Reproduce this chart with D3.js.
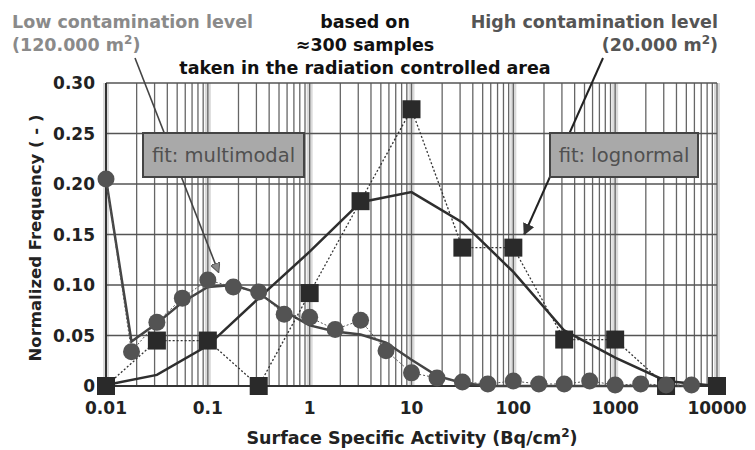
<!DOCTYPE html>
<html>
<head>
<meta charset="utf-8">
<script src="https://cdn.jsdelivr.net/npm/d3@7"></script>
<style>
  body { margin: 0; background: #fff; }
  text { font-family: 'DejaVu Sans', sans-serif; }
</style>
</head>
<body>
<div id="graph-holder"></div>
<script>
// low contamination samples (circles), quarter-decade classes
const circleX = [0.01, 0.0178, 0.0316, 0.0562, 0.1, 0.178, 0.316, 0.562, 1, 1.78, 3.16, 5.62,
                 10, 17.8, 31.6, 56.2, 100, 178, 316, 562, 1000, 1780, 3160, 5620];
const circleY = [0.205, 0.034, 0.063, 0.087, 0.105, 0.098, 0.093, 0.071, 0.068, 0.056, 0.065, 0.035,
                 0.013, 0.008, 0.004, 0.002, 0.005, 0.002, 0.002, 0.005, 0.001, 0.002, 0.001, 0.001];
const multimodalY = [0.205, 0.044, 0.062, 0.083, 0.098, 0.100, 0.092, 0.074, 0.060, 0.054, 0.051, 0.043,
                     0.026, 0.010, 0.003, 0, 0, 0, 0, 0, 0, 0, 0, 0];

// high contamination samples (squares), half-decade classes
const squareX = [0.01, 0.0316, 0.1, 0.316, 1, 3.16, 10, 31.6, 100, 316, 1000, 3160, 10000];
const squareY = [0, 0.045, 0.045, 0, 0.092, 0.183, 0.274, 0.137, 0.137, 0.046, 0.046, 0, 0];
const lognormalY = [0.001, 0.011, 0.040, 0.087, 0.133, 0.182, 0.192, 0.162, 0.113, 0.055, 0.028, 0.005, 0];

const xTickValues = [0.01, 0.1, 1, 10, 100, 1000, 10000];
const xTickLabels = ['0.01', '0.1', '1', '10', '100', '1000', '10000'];
const yTickValues = [0, 0.05, 0.10, 0.15, 0.20, 0.25, 0.30];
const yTickLabels = ['0', '0.05', '0.10', '0.15', '0.20', '0.25', '0.30'];

const svgWidth = 755,
      svgHeight = 450;

const margin = { top: 83, right: 38, bottom: 64, left: 106 };

const width = svgWidth - margin.left - margin.right,
      height = svgHeight - margin.top - margin.bottom;

const svg = d3.select('#graph-holder')
              .append('svg')
              .attr('width', svgWidth)
              .attr('height', svgHeight);

const defs = svg.append('defs');
defs.append('marker')
    .attr('id', 'arrow-gray')
    .attr('viewBox', '0 0 10 10')
    .attr('refX', 9).attr('refY', 5)
    .attr('markerWidth', 10).attr('markerHeight', 10)
    .attr('markerUnits', 'userSpaceOnUse')
    .attr('orient', 'auto')
    .append('path')
    .attr('d', 'M0,0 L10,5 L0,10 z')
    .attr('fill', '#888').attr('stroke', '#555');
defs.append('marker')
    .attr('id', 'arrow-dark')
    .attr('viewBox', '0 0 10 10')
    .attr('refX', 9).attr('refY', 5)
    .attr('markerWidth', 12).attr('markerHeight', 12)
    .attr('markerUnits', 'userSpaceOnUse')
    .attr('orient', 'auto')
    .append('path')
    .attr('d', 'M0,0 L10,5 L0,10 z')
    .attr('fill', '#333');

const g = svg.append('g')
             .attr('transform', `translate(${margin.left}, ${margin.top})`);

const x = d3.scaleLog()
            .domain([0.01, 10000])
            .range([0, width]);
const y = d3.scaleLinear()
            .domain([0, 0.30])
            .range([height, 0]);

// grid: decade bands, minor log lines, horizontal lines
g.append('g')
  .selectAll('rect')
  .data(xTickValues)
  .enter()
  .append('rect')
  .attr('x', d => x(d) - 3)
  .attr('y', 0)
  .attr('width', 6)
  .attr('height', height)
  .attr('fill', '#dadada');

g.append('g')
  .selectAll('line')
  .data(x.ticks())
  .enter()
  .append('line')
  .attr('x1', d => x(d)).attr('x2', d => x(d))
  .attr('y1', 0).attr('y2', height)
  .attr('stroke', '#666')
  .attr('stroke-width', 1.3);

g.append('g')
  .selectAll('line')
  .data(yTickValues)
  .enter()
  .append('line')
  .attr('x1', 0).attr('x2', width)
  .attr('y1', d => y(d)).attr('y2', d => y(d))
  .attr('stroke', '#555')
  .attr('stroke-width', 1.5);

// axes lines
g.append('line')
  .attr('x1', 0).attr('x2', 0).attr('y1', 0).attr('y2', height)
  .attr('stroke', '#333').attr('stroke-width', 2);
g.append('line')
  .attr('x1', 0).attr('x2', width).attr('y1', height).attr('y2', height)
  .attr('stroke', '#333').attr('stroke-width', 2);

// tick labels
g.append('g')
  .selectAll('text')
  .data(yTickValues)
  .enter()
  .append('text')
  .attr('x', -11)
  .attr('y', d => y(d) + 6)
  .attr('text-anchor', 'end')
  .attr('font-size', 17)
  .attr('font-weight', 'bold')
  .attr('fill', '#222')
  .text((d, i) => yTickLabels[i]);

g.append('g')
  .selectAll('text')
  .data(xTickValues)
  .enter()
  .append('text')
  .attr('x', d => x(d))
  .attr('y', height + 28)
  .attr('text-anchor', 'middle')
  .attr('font-size', 17)
  .attr('font-weight', 'bold')
  .attr('fill', '#222')
  .text((d, i) => xTickLabels[i]);

// axis titles
const xTitle = svg.append('text')
  .attr('x', 412)
  .attr('y', 444)
  .attr('text-anchor', 'middle')
  .attr('font-size', 17.5)
  .attr('font-weight', 'bold')
  .attr('fill', '#222');
xTitle.append('tspan').text('Surface Specific Activity (Bq/cm');
xTitle.append('tspan').attr('dy', -7).attr('font-size', 12).text('2');
xTitle.append('tspan').attr('dy', 7).text(')');

svg.append('text')
  .attr('transform', 'translate(41, 238) rotate(-90)')
  .attr('text-anchor', 'middle')
  .attr('font-size', 16.5)
  .attr('font-weight', 'bold')
  .attr('fill', '#222')
  .text('Normalized Frequency ( - )');

// fit curves
const line = d3.line()
               .x(d => x(d[0]))
               .y(d => y(d[1]));

g.append('path')
  .datum(circleX.map((v, i) => [v, multimodalY[i]]))
  .attr('d', line)
  .attr('fill', 'none')
  .attr('stroke', '#444')
  .attr('stroke-width', 2.5);

g.append('path')
  .datum(squareX.map((v, i) => [v, lognormalY[i]]))
  .attr('d', line)
  .attr('fill', 'none')
  .attr('stroke', '#2e2e2e')
  .attr('stroke-width', 2.5);

// dotted connectors through measured points
g.append('path')
  .datum(circleX.map((v, i) => [v, circleY[i]]))
  .attr('d', line)
  .attr('fill', 'none')
  .attr('stroke', '#555')
  .attr('stroke-width', 1)
  .attr('stroke-dasharray', '2,2');

g.append('path')
  .datum(squareX.map((v, i) => [v, squareY[i]]))
  .attr('d', line)
  .attr('fill', 'none')
  .attr('stroke', '#333')
  .attr('stroke-width', 1.3)
  .attr('stroke-dasharray', '2,2');

// markers
g.append('g')
  .selectAll('rect')
  .data(squareX.map((v, i) => [v, squareY[i]]))
  .enter()
  .append('rect')
  .attr('x', d => x(d[0]) - 9)
  .attr('y', d => y(d[1]) - 9)
  .attr('width', 18)
  .attr('height', 18)
  .attr('fill', '#2a2a2a');

g.append('g')
  .selectAll('circle')
  .data(circleX.map((v, i) => [v, circleY[i]]))
  .enter()
  .append('circle')
  .attr('cx', d => x(d[0]))
  .attr('cy', d => y(d[1]))
  .attr('r', 8.5)
  .attr('fill', '#535353');

// annotations
svg.append('line')
  .attr('x1', 135).attr('y1', 58)
  .attr('x2', x(0.127) + margin.left).attr('y2', y(0.113) + margin.top)
  .attr('stroke', '#444').attr('stroke-width', 1.6)
  .attr('marker-end', 'url(#arrow-gray)');

svg.append('line')
  .attr('x1', 603).attr('y1', 58)
  .attr('x2', x(128) + margin.left).attr('y2', y(0.15) + margin.top)
  .attr('stroke', '#222').attr('stroke-width', 2)
  .attr('marker-end', 'url(#arrow-dark)');

const boxes = [
  { x: 143, w: 161, label: 'fit: multimodal' },
  { x: 550, w: 148, label: 'fit: lognormal' }
];
boxes.forEach(b => {
  svg.append('rect')
    .attr('x', b.x).attr('y', 133)
    .attr('width', b.w).attr('height', 44)
    .attr('fill', '#a9a9a9')
    .attr('stroke', '#444')
    .attr('stroke-width', 2);
  svg.append('text')
    .attr('x', b.x + b.w / 2)
    .attr('y', 162)
    .attr('text-anchor', 'middle')
    .attr('font-size', 19.5)
    .attr('fill', '#505050')
    .text(b.label);
});

// header texts
svg.append('text')
  .attr('x', 12).attr('y', 28)
  .attr('font-size', 17.5).attr('font-weight', 'bold').attr('fill', '#8a8a8a')
  .text('Low contamination level');
const low2 = svg.append('text')
  .attr('x', 12).attr('y', 51)
  .attr('font-size', 17.5).attr('font-weight', 'bold').attr('fill', '#8a8a8a');
low2.append('tspan').text('(120.000 m');
low2.append('tspan').attr('dy', -7).attr('font-size', 12).text('2');
low2.append('tspan').attr('dy', 7).text(')');

svg.append('text')
  .attr('x', 718).attr('y', 28)
  .attr('text-anchor', 'end')
  .attr('font-size', 17.5).attr('font-weight', 'bold').attr('fill', '#555')
  .text('High contamination level');
const high2 = svg.append('text')
  .attr('x', 718).attr('y', 51)
  .attr('text-anchor', 'end')
  .attr('font-size', 17.5).attr('font-weight', 'bold').attr('fill', '#555');
high2.append('tspan').text('(20.000 m');
high2.append('tspan').attr('dy', -7).attr('font-size', 12).text('2');
high2.append('tspan').attr('dy', 7).text(')');

const centerLines = ['based on', '\u2248300 samples', 'taken in the radiation controlled area'];
svg.append('g')
  .selectAll('text')
  .data(centerLines)
  .enter()
  .append('text')
  .attr('x', 365)
  .attr('y', (d, i) => 28 + i * 23)
  .attr('text-anchor', 'middle')
  .attr('font-size', 17.5)
  .attr('font-weight', 'bold')
  .attr('fill', '#111')
  .text(d => d);
</script>
</body>
</html>
